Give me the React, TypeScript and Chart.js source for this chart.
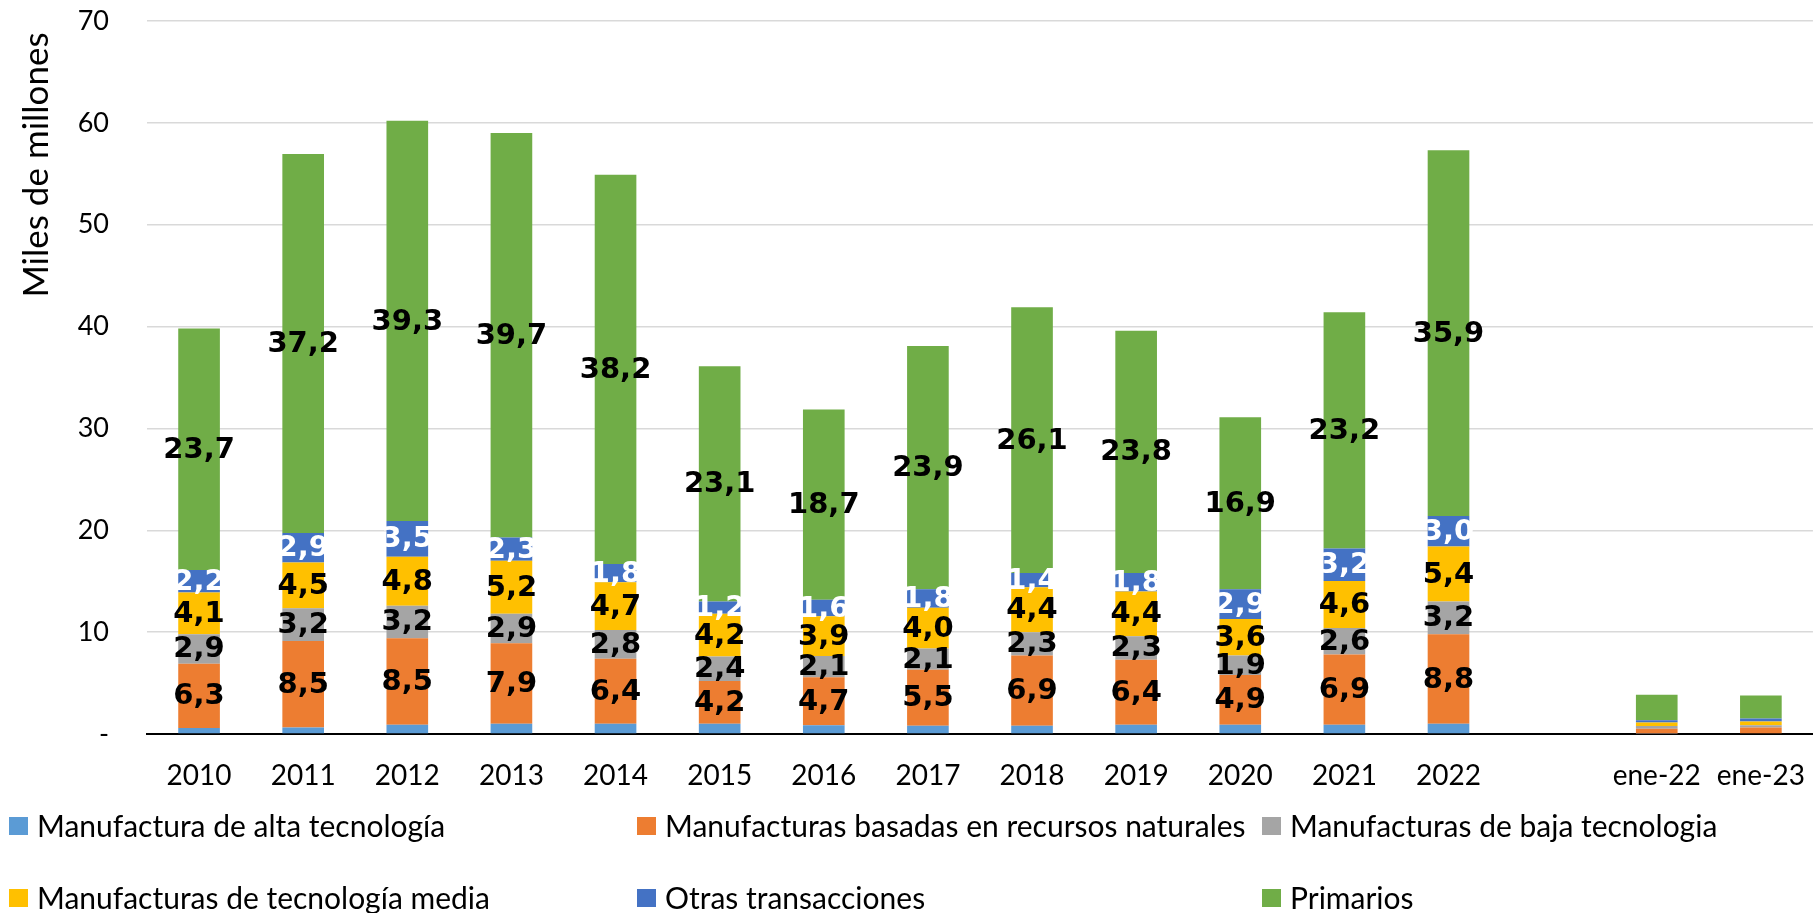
import React, { useEffect, useRef } from 'react';
import { Chart, registerables } from 'chart.js';

Chart.register(...registerables);

const categories = ['2010', '2011', '2012', '2013', '2014', '2015', '2016', '2017', '2018', '2019', '2020', '2021', '2022', '', 'ene-22', 'ene-23'];
const labeledCategories = ['2010', '2011', '2012', '2013', '2014', '2015', '2016', '2017', '2018', '2019', '2020', '2021', '2022'];

const altaTecnologia = [0.6, 0.64, 0.9, 1.0, 1.0, 1.0, 0.87, 0.8, 0.8, 0.9, 0.9, 0.91, 1.0, null, 0.06, 0.07];
const recursosNaturales = [6.3, 8.5, 8.5, 7.9, 6.4, 4.2, 4.7, 5.5, 6.9, 6.4, 4.9, 6.9, 8.8, null, 0.46, 0.56];
const bajaTecnologia = [2.9, 3.2, 3.2, 2.9, 2.8, 2.4, 2.1, 2.1, 2.3, 2.3, 1.9, 2.6, 3.2, null, 0.26, 0.23];
const mediaTecnologia = [4.1, 4.5, 4.8, 5.2, 4.7, 4.2, 3.9, 4.0, 4.4, 4.4, 3.6, 4.6, 5.4, null, 0.36, 0.36];
const otrasTransacciones = [2.2, 2.9, 3.5, 2.3, 1.8, 1.2, 1.6, 1.8, 1.4, 1.8, 2.9, 3.2, 3.0, null, 0.2, 0.3];
const primarios = [23.7, 37.2, 39.3, 39.7, 38.2, 23.1, 18.7, 23.9, 26.1, 23.8, 16.9, 23.2, 35.9, null, 2.52, 2.26];

const seriesNames = [
  'Manufactura de alta tecnología',
  'Manufacturas basadas en recursos naturales',
  'Manufacturas de baja tecnologia',
  'Manufacturas de tecnología media',
  'Otras transacciones',
  'Primarios',
];
const seriesValues = [altaTecnologia, recursosNaturales, bajaTecnologia, mediaTecnologia, otrasTransacciones, primarios];
const seriesColors = ['#5B9BD5', '#ED7D31', '#A5A5A5', '#FFC000', '#4472C4', '#70AD47'];
const labelColors = ['#000000', '#000000', '#000000', '#000000', '#FFFFFF', '#000000'];
const labeledSeries = [false, true, true, true, true, true];

const yAxisTitle = 'Miles de millones';
const yMin = 0;
const yMax = 70;
const yStep = 10;

const fmt = (v: number) => v.toFixed(1).replace('.', ',');

const CANVAS_W = 1830;
const CANVAS_H = 913;

const overlayPlugin = {
  id: 'overlay',
  afterDatasetsDraw(chart: any) {
    const ctx = chart.ctx;
    ctx.save();
    ctx.font = 'bold 29px "DejaVu Sans"';
    ctx.textAlign = 'center';
    ctx.textBaseline = 'middle';
    chart.data.datasets.forEach((ds: any, di: number) => {
      if (!labeledSeries[di]) return;
      const meta = chart.getDatasetMeta(di);
      meta.data.forEach((el: any, i: number) => {
        const v = ds.data[i];
        if (v == null || !labeledCategories.includes(categories[i])) return;
        const p = el.getProps(['x', 'y', 'base'], true);
        ctx.fillStyle = labelColors[di];
        ctx.fillText(fmt(v), p.x, (p.y + p.base) / 2 + 1);
      });
    });
    ctx.restore();
  },
  afterDraw(chart: any) {
    const ctx = chart.ctx;
    ctx.save();
    // Y axis title
    ctx.font = '35px Lato';
    ctx.fillStyle = '#000000';
    ctx.textAlign = 'center';
    ctx.textBaseline = 'alphabetic';
    ctx.translate(48, 165);
    ctx.rotate(-Math.PI / 2);
    ctx.fillText(yAxisTitle, 0, 0);
    ctx.restore();

    // Legend
    ctx.save();
    ctx.font = '30px Lato';
    ctx.textAlign = 'left';
    ctx.textBaseline = 'alphabetic';
    const colX = [9, 637, 1262];
    const rowTop = [817, 889];
    seriesNames.forEach((name, i) => {
      const col = i % 3;
      const row = Math.floor(i / 3);
      const x = colX[col];
      const y = rowTop[row];
      ctx.fillStyle = seriesColors[i];
      ctx.fillRect(x, y, 19, 18);
      ctx.fillStyle = '#000000';
      ctx.fillText(name, x + 28, y + 20);
    });
    ctx.restore();
  },
};

export default function App() {
  const canvasRef = useRef<HTMLCanvasElement | null>(null);

  useEffect(() => {
    let chart: Chart | null = null;
    let cancelled = false;
    const fontsReady = (document as any).fonts
      ? Promise.all([
          (document as any).fonts.load('28px Lato'),
          (document as any).fonts.load('bold 28px "DejaVu Sans"'),
        ]).catch(() => null)
      : Promise.resolve(null);

    fontsReady.then(() => {
      if (cancelled || !canvasRef.current) return;
      chart = new Chart(canvasRef.current, {
        type: 'bar',
        data: {
          labels: categories,
          datasets: seriesNames.map((name, i) => ({
            label: name,
            data: seriesValues[i] as any,
            backgroundColor: seriesColors[i],
            borderWidth: 0,
            barPercentage: 0.4,
            categoryPercentage: 1.0,
          })),
        },
        options: {
          animation: false,
          responsive: false,
          maintainAspectRatio: false,
          layout: { padding: { left: 0, right: 3, top: 21, bottom: 119 } },
          plugins: {
            legend: { display: false },
            tooltip: { enabled: false },
            title: { display: false },
          },
          scales: {
            x: {
              stacked: true,
              grid: { display: false, drawTicks: false },
              border: { display: true, color: '#000000', width: 2 },
              ticks: {
                color: '#000000',
                font: { family: 'Lato', size: 28, lineHeight: 1.2 },
                padding: 25,
                maxRotation: 0,
                autoSkip: false,
              },
              afterFit: (s: any) => {
                s.height = 60;
              },
            },
            y: {
              stacked: true,
              min: yMin,
              max: yMax,
              grid: {
                color: '#D9D9D9',
                lineWidth: 1.5,
                drawTicks: true,
                tickLength: 38,
                tickColor: 'rgba(0,0,0,0)',
              },
              border: { display: false },
              ticks: {
                stepSize: yStep,
                color: '#000000',
                font: { family: 'Lato', size: 27 },
                padding: 0,
                callback: (v: any) => (Number(v) === 0 ? '-' : String(v)),
              },
              afterFit: (s: any) => {
                s.width = 147;
              },
            },
          },
        },
        plugins: [overlayPlugin],
      });
    });

    return () => {
      cancelled = true;
      if (chart) chart.destroy();
    };
  }, []);

  return (
    <div
      style={{
        position: 'absolute',
        left: 0,
        top: 0,
        width: 1819,
        height: 913,
        overflow: 'hidden',
        background: '#FFFFFF',
      }}
    >
      <canvas
        ref={canvasRef}
        width={CANVAS_W}
        height={CANVAS_H}
        style={{ width: CANVAS_W, height: CANVAS_H, display: 'block' }}
      />
    </div>
  );
}
